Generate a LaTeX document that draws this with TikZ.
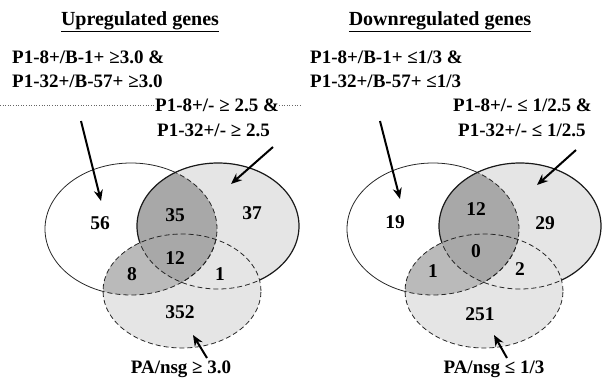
\documentclass[tikz,border=0pt]{standalone}
\usepackage{fontspec}
\setmainfont{Liberation Serif}
\usetikzlibrary{arrows.meta}
\begin{document}
\begin{tikzpicture}[x=1pt,y=-1pt,
  lbl/.style={font=\fontsize{19}{22}\selectfont\bfseries, inner sep=0pt, anchor=west},
  btm/.style={font=\fontsize{19}{22}\selectfont\bfseries, inner sep=0pt},
  num/.style={font=\fontsize{19.5}{22}\selectfont\bfseries, inner sep=0pt},
  ttl/.style={font=\fontsize{20}{24}\selectfont\bfseries, inner sep=0pt},
  arr/.style={line width=2pt, -{Stealth[length=11pt,width=9pt]}},
  ol/.style={line width=0.8pt, black!85},
  olB/.style={line width=1.2pt, black!90},
  dsh/.style={dash pattern=on 5pt off 3pt},
  lightg/.style={fill=black!10},
  midg/.style={fill=black!27},
  darkg/.style={fill=black!34},
]
\useasboundingbox (0,0) rectangle (605,383);
\def\venA{(131,229) ellipse [x radius=86pt, y radius=66pt]}
\def\venB{(218,226) ellipse [x radius=81pt, y radius=63pt]}
\def\venC{(182,291) ellipse [x radius=79pt, y radius=57pt]}
\def\venBig{(-400,-100) rectangle (1000,500)}
\def\venDraw{%
  \fill[lightg] \venB; \fill[lightg] \venC;
  \begin{scope}\clip \venA; \fill[midg] \venC; \fill[darkg] \venB; \end{scope}
  \begin{scope}[even odd rule]\clip \venBig \venB; \clip \venBig \venC; \draw[ol] \venA; \end{scope}
  \begin{scope}\clip \venB; \draw[ol,dsh] \venA; \end{scope}
  \begin{scope}\clip \venC; \draw[ol,dsh] \venA; \end{scope}
  \begin{scope}[even odd rule]\clip \venBig \venC; \draw[olB] \venB; \end{scope}
  \begin{scope}\clip \venC; \draw[ol,dsh] \venB; \end{scope}
  \draw[ol,dsh] \venC;
}
% left diagram
\begin{scope}\venDraw\end{scope}
% right diagram
\begin{scope}[xshift=302pt]\venDraw\end{scope}

% titles
\node[ttl] (tup) at (140,22) {\underline{Upregulated genes}};
\node[ttl] (tdown) at (440,22) {\underline{Downregulated genes}};

% left labels
\node[lbl] (l1) at (12,57) {P1-8+/B-1+ ≥3.0 \&};
\node[lbl] (l2) at (12,81) {P1-32+/B-57+ ≥3.0};
\node[lbl] (l3) at (155,105) {P1-8+/- ≥ 2.5 \&};
\node[lbl] (l4) at (157,130) {P1-32+/- ≥ 2.5};
\node[btm] (l5) at (181,369) {PA/nsg ≥ 3.0};
\coordinate (dl0) at (0,105);
\coordinate (dl1) at (302,105);
\draw[dotted, black!60, line width=0.6pt] (dl0) -- (l3.west);
\draw[dotted, black!60, line width=0.6pt] (l3.east) -- (dl1);

% right labels
\node[lbl] (r1) at (310,57) {P1-8+/B-1+ ≤1/3 \&};
\node[lbl] (r2) at (310,81) {P1-32+/B-57+ ≤1/3};
\node[lbl] (r3) at (453,105) {P1-8+/- ≤ 1/2.5 \&};
\node[lbl] (r4) at (458,130) {P1-32+/- ≤ 1/2.5};
\node[btm] (r5) at (494,369) {PA/nsg ≤ 1/3};

% left numbers
\node[num] (n56) at (100,223) {56};
\node[num] (n35) at (175,215) {35};
\node[num] (n37) at (252,213) {37};
\node[num] (n12) at (175,258) {12};
\node[num] (n8) at (132,274) {8};
\node[num] (n1) at (220,274) {1};
\node[num] (n352) at (180,312) {352};

% right numbers
\node[num] (m19) at (395,222) {19};
\node[num] (m12) at (476,209) {12};
\node[num] (m29) at (545,223) {29};
\node[num] (m0) at (476,251) {0};
\node[num] (m1) at (433,271) {1};
\node[num] (m2) at (520,269) {2};
\node[num] (m251) at (480,314) {251};

% arrows left
\coordinate (a1s) at (81,121); \coordinate (a1e) at (101,201);
\coordinate (a2s) at (273,147); \coordinate (a2e) at (231,184);
\coordinate (a3s) at (207,358); \coordinate (a3e) at (193,335);
\draw[arr] (a1s) -- (a1e);
\draw[arr] (a2s) -- (a2e);
\draw[arr] (a3s) -- (a3e);
% arrows right
\coordinate (b1s) at (380,121); \coordinate (b1e) at (400,199);
\coordinate (b2s) at (576,150); \coordinate (b2e) at (537,185);
\coordinate (b3s) at (507,358); \coordinate (b3e) at (494,335);
\draw[arr] (b1s) -- (b1e);
\draw[arr] (b2s) -- (b2e);
\draw[arr] (b3s) -- (b3e);
\end{tikzpicture}
\end{document}
